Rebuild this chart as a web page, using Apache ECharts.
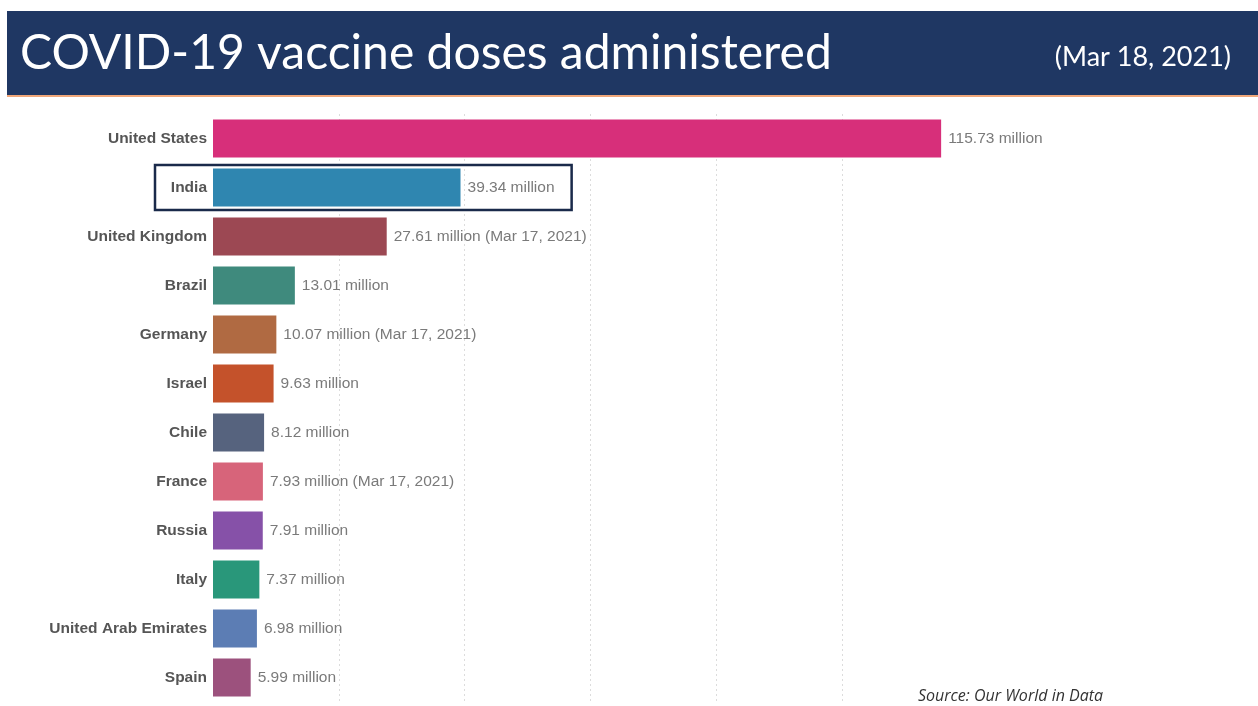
<!DOCTYPE html>
<html>
<head>
<meta charset="utf-8">
<script src="https://cdn.jsdelivr.net/npm/echarts@6/dist/echarts.min.js"></script>
<style>
html,body{margin:0;padding:0;background:#fff;}
#chart{width:1258px;height:706px;}
</style>
</head>
<body>
<div id="chart"></div>
<script>
const countries = ['United States','India','United Kingdom','Brazil','Germany','Israel','Chile','France','Russia','Italy','United Arab Emirates','Spain'];
const doses = [115.73,39.34,27.61,13.01,10.07,9.63,8.12,7.93,7.91,7.37,6.98,5.99];
const dateNotes = ['','',' (Mar 17, 2021)','',' (Mar 17, 2021)','','',' (Mar 17, 2021)','','','',''];
const barColors = ['#d72f7a','#2f86b0','#9c4853','#3f8a7d','#b06a42','#c4522b','#56637e','#d7647a','#8651a8','#29977a','#5c7db4','#9c517d'];
const gridTicks = [20,40,60,80,100];
const titleText = 'COVID-19 vaccine doses administered';
const dateText = '(Mar 18, 2021)';
const sourceText = 'Source: Our World in Data';
const highlight = 'India';

const chart = echarts.init(document.getElementById('chart'), null, {renderer:'canvas'});
const option = {
  animation:false,
  backgroundColor:'#ffffff',
  grid:{left:213, right:290, top:114, bottom:4, containLabel:false},
  xAxis:{type:'value', min:0, max:120, show:true,
    axisLine:{show:false}, axisTick:{show:false}, axisLabel:{show:false}, splitLine:{show:false}},
  yAxis:{type:'category', data:countries, inverse:true,
    axisLine:{show:false}, axisTick:{show:false}, splitLine:{show:false},
    axisLabel:{color:'#555', fontWeight:'bold', fontSize:15.5, fontFamily:'Liberation Sans, Arial, sans-serif', margin:6}},
  series:[{
    type:'bar',
    barCategoryGap:'22%',
    data:doses.map((v,i)=>({value:v, itemStyle:{color:barColors[i]}})),
    label:{show:true, position:'right', distance:7, color:'#7a7a7a', fontSize:15.5,
      fontFamily:'Liberation Sans, Arial, sans-serif',
      formatter:p=>p.value.toFixed(2)+' million'+dateNotes[p.dataIndex]},
    z:3
  },{
    type:'line',
    data:[],
    z:1,
    markLine:{silent:true, symbol:'none', label:{show:false}, z:1,
      lineStyle:{color:'#dcdcdc', type:[2,3], width:1},
      data:gridTicks.map(t=>({xAxis:t}))}
  }]
};
chart.setOption(option);

const yc = chart.convertToPixel({yAxisIndex:0}, highlight);
const x0 = chart.convertToPixel({xAxisIndex:0}, 0);
const xr = chart.convertToPixel({xAxisIndex:0}, 57);
chart.setOption({
  graphic:[
    {type:'rect', left:7, top:11, shape:{width:1251, height:84}, style:{fill:'#1f3763'}, z:10},
    {type:'rect', left:7, top:95, shape:{width:1251, height:2}, style:{fill:'#f0a77a'}, z:10},
    {type:'text', left:20, top:30, style:{text:titleText, fill:'#ffffff', font:'48px Lato, "Open Sans", sans-serif'}, z:11},
    {type:'text', right:27, top:44, style:{text:dateText, fill:'#ffffff', font:'27px Lato, "Open Sans", sans-serif'}, z:11},
    {type:'text', left:918, top:688, style:{text:sourceText, fill:'#333333', font:'italic 16px "Open Sans", sans-serif'}, z:11},
    {type:'rect', shape:{x:x0-58, y:yc-22.5, width:xr-(x0-58), height:45},
      style:{fill:'none', stroke:'#1a2a4a', lineWidth:2.5}, z:12}
  ]
});
</script>
</body>
</html>
